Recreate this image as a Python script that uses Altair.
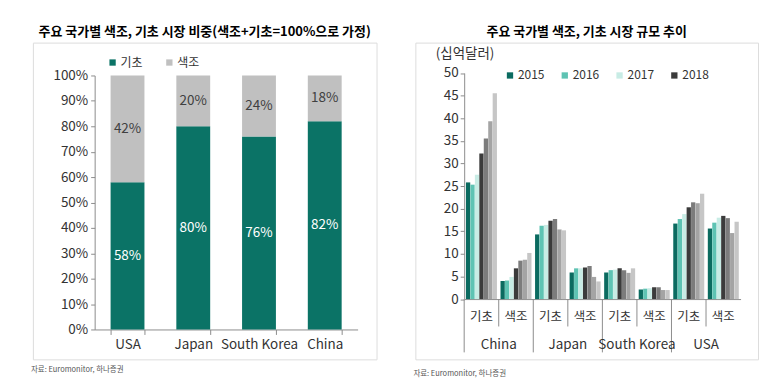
import altair as alt
import pandas as pd

FONT = "Noto Sans CJK KR"

# ---------------- data ----------------
left_title = "주요 국가별 색조, 기초 시장 비중(색조+기초=100%으로 가정)"
right_title = "주요 국가별 색조, 기초 시장 규모 추이"
unit_label = "(십억달러)"
source_note = ["자료: Euromonitor, 하나증권"]

types = ["기초", "색조"]

share_countries = ["USA", "Japan", "South Korea", "China"]
base_share = [0.58, 0.80, 0.76, 0.82]
color_share = [0.42, 0.20, 0.24, 0.18]

years = ["2015", "2016", "2017", "2018", "2019", "2020", "2021"]
legend_years = ["2015", "2016", "2017", "2018"]
size_countries = ["China", "Japan", "South Korea", "USA"]
china_base = [25.8, 25.3, 27.5, 32.2, 35.5, 39.3, 45.5]
china_color = [4.0, 4.1, 4.9, 6.8, 8.5, 8.7, 10.2]
japan_base = [14.3, 16.2, 16.4, 17.3, 17.7, 15.4, 15.2]
japan_color = [5.9, 6.8, 6.8, 7.0, 7.3, 4.9, 3.9]
korea_base = [5.9, 6.4, 6.5, 6.8, 6.4, 5.8, 6.8]
korea_color = [2.1, 2.3, 2.4, 2.6, 2.6, 2.0, 2.0]
usa_base = [16.7, 17.7, 18.8, 20.3, 21.4, 21.2, 23.3]
usa_color = [15.6, 16.9, 18.0, 18.4, 17.9, 14.6, 17.1]

share_colors = ["#0b7366", "#c0c0c0"]
year_colors = ["#0b6b60", "#5ec3b3", "#c8ece5", "#3b3b3b", "#7c7c7c", "#a4a4a4", "#c6c6c6"]

TXT = "#333333"
AX = "#8c8c8c"

# ---------------- left chart ----------------
rows = []
for c, b, s in zip(share_countries, base_share, color_share):
    rows.append(dict(country=c, type=types[0], share=b, order=0))
    rows.append(dict(country=c, type=types[1], share=s, order=1))
left_df = pd.DataFrame(rows)

LW, LH = 345, 318
lx_scale = alt.Scale(domain=share_countries, range=[62, 326], paddingInner=0.485, paddingOuter=0.2425)
ly_scale = alt.Scale(domain=[0, 1], range=[288, 33], nice=False)
lx_axis = alt.Axis(title=None, orient="bottom", offset=-30, labelAngle=0, tickBand="extent",
                   tickSize=5, labelPadding=3, domainColor=AX, tickColor=AX,
                   labelFontSize=13.5, labelColor=TXT, labelFont=FONT)
ly_axis = alt.Axis(title=None, orient="left", offset=-62, format=".0%",
                   values=[i / 10 for i in range(11)], grid=False, tickSize=4, labelPadding=3,
                   domainColor=AX, tickColor=AX, labelFontSize=13.5, labelColor=TXT,
                   labelFont=FONT, minExtent=0)

left_bars = alt.Chart(left_df).mark_bar().encode(
    x=alt.X("country:N", sort=share_countries, scale=lx_scale, axis=lx_axis),
    y=alt.Y("share:Q", stack="zero", scale=ly_scale, axis=ly_axis),
    color=alt.Color("type:N", scale=alt.Scale(domain=types, range=share_colors),
                    legend=alt.Legend(title=None, orient="none", legendX=74, legendY=14,
                                      direction="horizontal", symbolType="square",
                                      symbolSize=40, symbolStrokeWidth=0, labelFontSize=12,
                                      labelFont=FONT, labelColor=TXT, columnPadding=20,
                                      labelOffset=2)),
    order=alt.Order("order:Q"),
)

left_text = alt.Chart(left_df).transform_stack(
    stack="share", as_=["y0", "y1"], groupby=["country"],
    sort=[alt.SortField("order", order="ascending")]
).transform_calculate(
    mid="(datum.y0 + datum.y1) / 2", lbl="format(datum.share, '.0%')"
).mark_text(fontSize=13.5, font=FONT, baseline="middle").encode(
    x=alt.X("country:N", sort=share_countries, scale=lx_scale, axis=lx_axis),
    y=alt.Y("mid:Q", scale=ly_scale, axis=ly_axis),
    text="lbl:N",
    color=alt.condition("datum.type === '기초'", alt.value("white"), alt.value("#404040")),
)

left_src = alt.Chart(pd.DataFrame({"t": source_note})).mark_text(
    align="left", baseline="middle", fontSize=7.5, font=FONT, color="#555555"
).encode(x=alt.value(-2), y=alt.value(329), text="t:N")

left = alt.layer(left_bars, left_text, left_src).properties(
    width=LW, height=LH, title=alt.TitleParams(left_title, frame="group")
)

# ---------------- right chart ----------------
series = {
    "China": (china_base, china_color),
    "Japan": (japan_base, japan_color),
    "South Korea": (korea_base, korea_color),
    "USA": (usa_base, usa_color),
}
rows = []
for c in size_countries:
    for t, vals in zip(types, series[c]):
        for yr, v in zip(years, vals):
            rows.append(dict(sub=f"{c}|{t}", country=c, type=t, year=yr, value=v))
size_df = pd.DataFrame(rows)
subs = [f"{c}|{t}" for c in size_countries for t in types]

RW, RH = 344, 318
rx_scale = alt.Scale(domain=subs, range=[49, 326.5], paddingInner=0, paddingOuter=0)
ry_scale = alt.Scale(domain=[0, 50], range=[257.5, 30.5], nice=False)
rx_axis = alt.Axis(title=None, orient="bottom", offset=-60.5, labelAngle=0, ticks=False,
                   labelExpr="split(datum.label, '|')[1]", labelPadding=12,
                   domainColor=AX, labelFontSize=12.5, labelColor=TXT, labelFont=FONT)
ry_axis = alt.Axis(title=unit_label, orient="left", offset=-49, values=list(range(0, 51, 5)),
                   grid=False, tickSize=4, labelPadding=2, domainColor=AX, tickColor=AX,
                   labelFontSize=13.5, labelColor=TXT, labelFont=FONT, minExtent=0,
                   titleAngle=0, titleAlign="left", titleBaseline="middle", titleX=-29,
                   titleY=11, titleFontSize=13.5, titleFontWeight="normal", titleColor=TXT,
                   titleFont=FONT)

right_bars = alt.Chart(size_df).mark_bar().encode(
    x=alt.X("sub:N", sort=subs, scale=rx_scale, axis=rx_axis),
    xOffset=alt.XOffset("year:N", sort=years, scale=alt.Scale(paddingOuter=0.4, paddingInner=0.04)),
    y=alt.Y("value:Q", scale=ry_scale, axis=ry_axis),
    color=alt.Color("year:N", scale=alt.Scale(domain=years, range=year_colors),
                    legend=alt.Legend(title=None, orient="none", legendX=89, legendY=27,
                                      values=legend_years, direction="horizontal",
                                      symbolType="square", symbolSize=40, symbolStrokeWidth=0,
                                      labelFontSize=12, labelFont=FONT, labelColor=TXT,
                                      columnPadding=14, labelOffset=2)),
)

inner_df = pd.DataFrame({"sub": [f"{c}|{types[1]}" for c in size_countries]})
outer_df = pd.DataFrame({"sub": [f"{c}|{types[0]}" for c in size_countries]})

inner_rules = alt.Chart(inner_df).mark_rule(color=AX).encode(
    x=alt.X("sub:N", sort=subs, scale=rx_scale, axis=rx_axis, bandPosition=0),
    y=alt.value(257.5), y2=alt.value(285),
)
outer_rules = alt.Chart(outer_df).mark_rule(color=AX).encode(
    x=alt.X("sub:N", sort=subs, scale=rx_scale, axis=rx_axis, bandPosition=0),
    y=alt.value(257.5), y2=alt.value(311),
)
country_text = alt.Chart(outer_df.assign(country=size_countries)).mark_text(
    fontSize=13.5, font=FONT, color=TXT, baseline="middle"
).encode(
    x=alt.X("sub:N", sort=subs, scale=rx_scale, axis=rx_axis, bandPosition=1),
    y=alt.value(304),
    text="country:N",
)

right_src = alt.Chart(pd.DataFrame({"t": source_note})).mark_text(
    align="left", baseline="middle", fontSize=7.5, font=FONT, color="#555555"
).encode(x=alt.value(-2), y=alt.value(333), text="t:N")

right = alt.layer(right_bars, inner_rules, outer_rules, country_text, right_src).properties(
    width=RW, height=RH, title=alt.TitleParams(right_title, frame="group")
)

chart = alt.hconcat(left, right, spacing=39, bounds="flush").resolve_scale(
    x="independent", y="independent", color="independent"
).configure_view(stroke="#c8c8c8", strokeWidth=1).configure_title(
    fontSize=14.5, fontWeight="normal", anchor="middle", offset=8, color="#222222", font=FONT
).configure(padding={"left": 22, "top": 16, "right": 0, "bottom": 0}, font=FONT)

chart.save("out.html", embed_options={"renderer": "svg", "actions": False})
